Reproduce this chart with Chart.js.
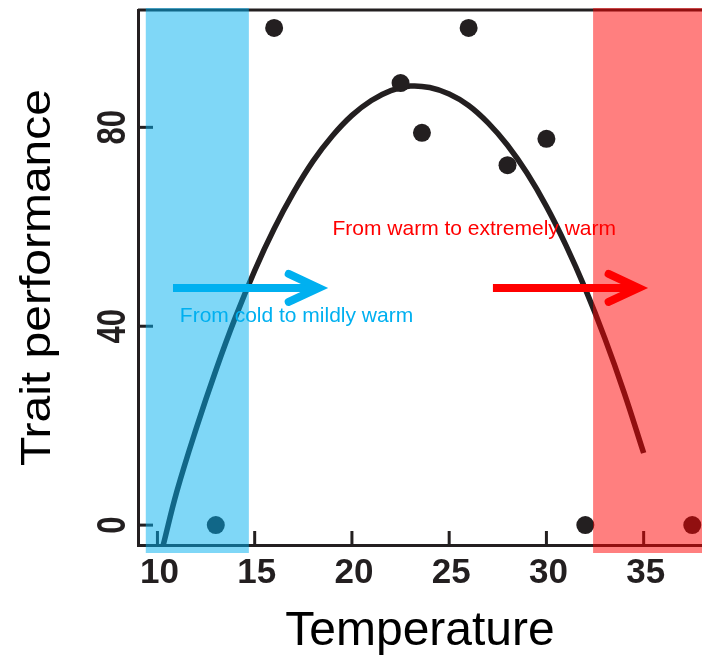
<!DOCTYPE html>
<html>
<head>
<meta charset="utf-8">
<script src="https://cdn.jsdelivr.net/npm/chart.js@4.4.1/dist/chart.umd.min.js"></script>
<style>
    html, body { margin: 0; padding: 0; background: #fff; }
    #wrap { width: 702px; height: 655px; position: relative; }
</style>
</head>
<body>
<div id="wrap"><canvas id="tpc"></canvas></div>
<script>
// observed trait values
const obsTemp = [13, 16, 22.5, 23.6, 26, 28, 30, 32, 37.5];
const obsPerf = [0, 100, 88.9, 78.9, 100, 72.4, 77.7, 0, 0];

// fitted performance curve
const curveTemp = [10.3, 11, 12, 13, 14, 15, 16, 17, 18, 19, 20, 21, 22, 23, 24, 25, 26, 27, 28, 29, 30, 31, 32, 33, 34, 35];
const curvePerf = [-4, 6.8, 19.5, 31.1, 41.7, 51.2, 59.6, 66.9, 73.2, 78.3, 82.4, 85.4, 87.4, 88.3, 88.0, 86.7, 84.4, 80.9, 76.4, 70.8, 64.1, 56.3, 47.5, 37.6, 26.6, 14.5];

// axis ticks
const xTicks = [10, 15, 20, 25, 30, 35];
const yTicks = [0, 40, 80];

// shaded temperature ranges
const coldBand = [9.4, 14.7];
const warmBand = [32.4, 38];

const INK = '#231f20';
const FONT = '"Liberation Sans", Arial, sans-serif';

const toXY = (xs, ys) => xs.map((x, i) => ({ x: x, y: ys[i] }));

const decorPlugin = {
    id: 'decor',
    afterDatasetsDraw: function (chart) {
        const { ctx, chartArea, scales } = chart;
        const { x, y } = scales;
        const { left, right, top, bottom } = chartArea;

        ctx.save();

        // top frame line
        ctx.strokeStyle = INK;
        ctx.lineWidth = 3;
        ctx.beginPath();
        ctx.moveTo(left, top);
        ctx.lineTo(right, top);
        ctx.stroke();

        // inward ticks
        xTicks.forEach(v => {
            const px = x.getPixelForValue(v);
            ctx.beginPath();
            ctx.moveTo(px, bottom);
            ctx.lineTo(px, bottom - 14);
            ctx.stroke();
        });
        yTicks.forEach(v => {
            const py = y.getPixelForValue(v);
            ctx.beginPath();
            ctx.moveTo(left, py);
            ctx.lineTo(left + 15, py);
            ctx.stroke();
        });

        // tick labels
        ctx.fillStyle = INK;
        ctx.font = 'bold 35px ' + FONT;
        ctx.textAlign = 'center';
        ctx.textBaseline = 'alphabetic';
        xTicks.forEach(v => {
            ctx.fillText(String(v), x.getPixelForValue(v) + 2, bottom + 38);
        });
        ctx.font = 'bold 31px ' + FONT;
        yTicks.forEach(v => {
            ctx.save();
            ctx.translate(left - 13, y.getPixelForValue(v));
            ctx.rotate(-Math.PI / 2);
            ctx.scale(1, 1.3);
            ctx.fillText(String(v), 0, 0);
            ctx.restore();
        });

        // axis titles
        ctx.fillStyle = '#000';
        ctx.font = '48px ' + FONT;
        ctx.fillText('Temperature', (left + right) / 2, 645);
        ctx.save();
        ctx.translate(50, (top + bottom) / 2);
        ctx.rotate(-Math.PI / 2);
        ctx.scale(1, 0.9);
        ctx.fillText('Trait performance', 0, 0);
        ctx.restore();

        // shaded ranges
        const band = (range, color) => {
            const x0 = x.getPixelForValue(range[0]);
            const x1 = Math.min(x.getPixelForValue(range[1]), chart.width);
            ctx.fillStyle = color;
            ctx.fillRect(x0, top - 2, x1 - x0, bottom - top + 10);
        };
        band(coldBand, 'rgba(0, 176, 240, 0.5)');
        band(warmBand, 'rgba(255, 0, 0, 0.5)');

        // arrows (tip pulled back so the stroke ends at the target)
        const arrow = (x0, x1, yv, color) => {
            const px0 = x.getPixelForValue(x0);
            const tip = x.getPixelForValue(x1) - 6;
            const py = y.getPixelForValue(yv);
            ctx.strokeStyle = color;
            ctx.lineWidth = 8;
            ctx.lineCap = 'butt';
            ctx.beginPath();
            ctx.moveTo(px0, py);
            ctx.lineTo(tip - 4, py);
            ctx.stroke();
            ctx.lineCap = 'round';
            ctx.lineJoin = 'miter';
            ctx.beginPath();
            ctx.moveTo(tip - 30, py - 14);
            ctx.lineTo(tip, py);
            ctx.lineTo(tip - 30, py + 14);
            ctx.stroke();
        };
        arrow(10.8, 18.6, 47.7, '#00b0f0');
        arrow(27.25, 35.05, 47.7, '#ff0000');

        // range notes
        ctx.font = '21px ' + FONT;
        ctx.textAlign = 'left';
        ctx.fillStyle = '#00b0f0';
        ctx.fillText('From cold to mildly warm', x.getPixelForValue(11.15), y.getPixelForValue(40.8));
        ctx.fillStyle = '#ff0000';
        ctx.fillText('From warm to extremely warm', x.getPixelForValue(19.0), y.getPixelForValue(58.4));

        ctx.restore();
    }
};

new Chart(document.getElementById('tpc'), {
    type: 'scatter',
    data: {
        datasets: [
            {
                label: 'fit',
                data: toXY(curveTemp, curvePerf),
                showLine: true,
                borderColor: INK,
                borderWidth: 5.5,
                pointRadius: 0,
                tension: 0.4,
                order: 2
            },
            {
                label: 'observed',
                data: toXY(obsTemp, obsPerf),
                backgroundColor: INK,
                borderColor: INK,
                pointRadius: 9,
                borderWidth: 0,
                order: 1
            }
        ]
    },
    options: {
        responsive: true,
        maintainAspectRatio: false,
        animation: false,
        events: [],
        layout: { autoPadding: false, padding: { left: 138, top: 10, right: 0, bottom: 110 } },
        plugins: { legend: { display: false }, tooltip: { enabled: false } },
        scales: {
            x: {
                type: 'linear',
                min: 9,
                max: 38,
                afterBuildTicks: s => { s.ticks = xTicks.map(v => ({ value: v })); },
                grid: { display: false, drawTicks: false, tickLength: 0 },
                ticks: { display: false, padding: 0 },
                border: { display: true, color: INK, width: 3 }
            },
            y: {
                type: 'linear',
                min: -4,
                max: 103.6,
                afterBuildTicks: s => { s.ticks = yTicks.map(v => ({ value: v })); },
                grid: { display: false, drawTicks: false, tickLength: 0 },
                ticks: { display: false, padding: 0 },
                border: { display: true, color: INK, width: 3 }
            }
        }
    },
    plugins: [decorPlugin]
});
</script>
</body>
</html>
